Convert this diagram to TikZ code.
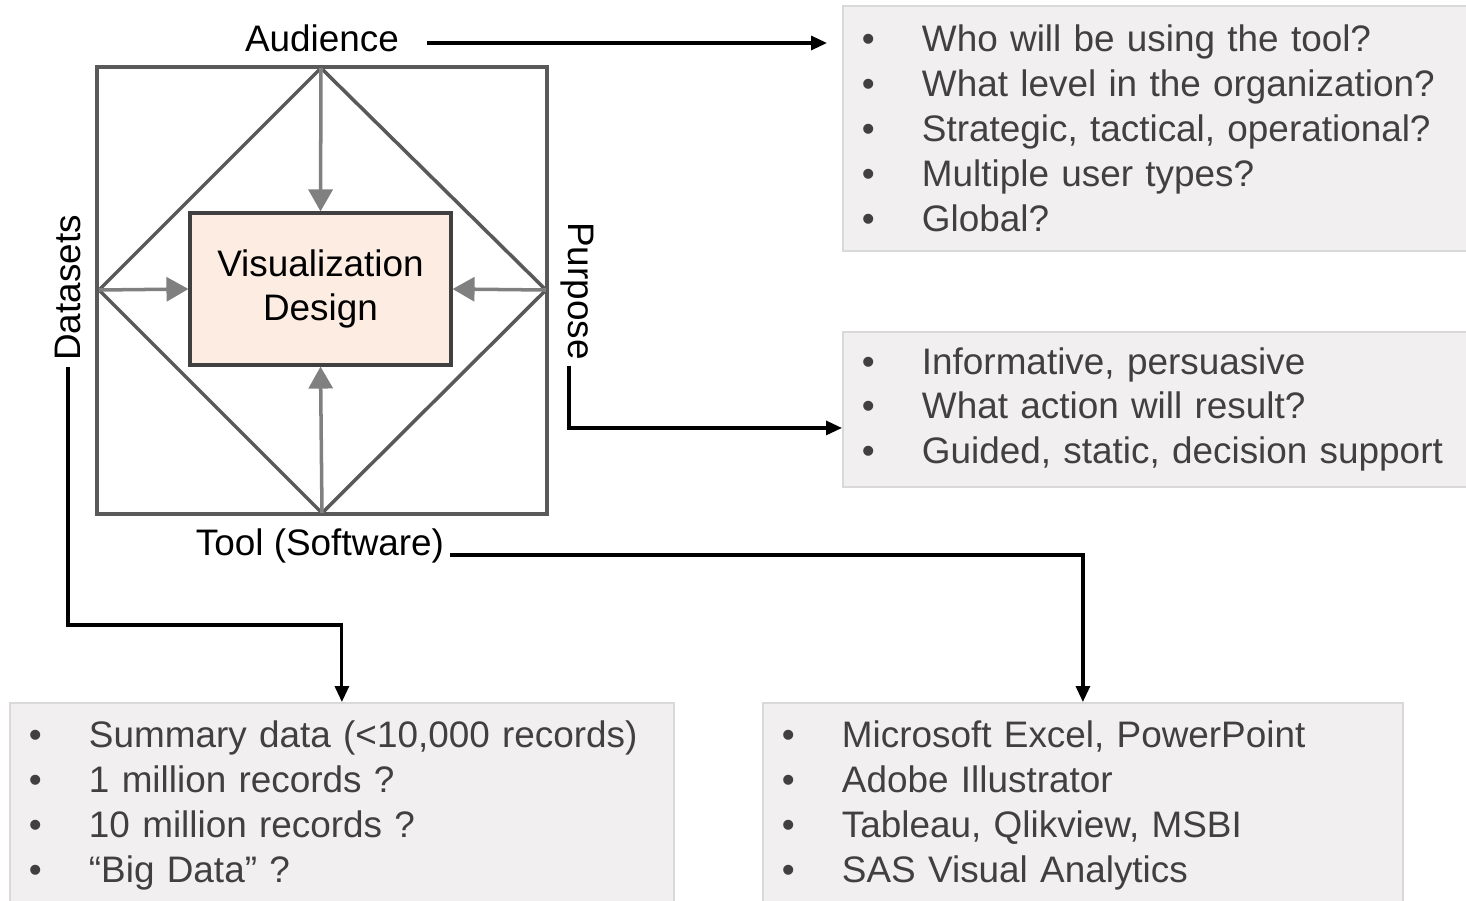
\documentclass[tikz,border=0pt]{standalone}
\usepackage{fontspec}
\setmainfont{Liberation Sans}
\usetikzlibrary{calc, positioning, arrows.meta}
\definecolor{boxgray}{HTML}{F2EFF0}
\definecolor{boxline}{HTML}{D9D9D9}
\definecolor{peach}{HTML}{FDECE1}
\definecolor{framegray}{HTML}{595959}
\definecolor{feedgray}{HTML}{808080}
\definecolor{itemgray}{HTML}{404040}
\newcommand{\itm}[1]{\makebox[1.2cm][l]{\textbullet}#1}

\begin{document}
\begin{tikzpicture}[
    x=0.02cm, y=-0.02cm,
    lbl/.style={font=\fontsize{21}{25}\selectfont},
    design/.style={draw=black!75, line width=1.8pt, fill=peach,
      minimum width=5.22cm, minimum height=3.04cm, align=center,
      font=\fontsize{21}{25.5}\selectfont},
    infobox/.style={draw=boxline, line width=1.1pt, fill=boxgray,
      anchor=north west, text=itemgray, align=left, inner xsep=0.38cm,
      font=\fontsize{21}{25.6}\selectfont},
    feedarrow/.style={draw=feedgray, line width=2pt,
      -{Triangle[width=0.48cm, length=0.44cm]}},
    flow/.style={draw=black, line width=1.8pt,
      -{Triangle[width=0.28cm, length=0.32cm]}},
    frameline/.style={draw=framegray, line width=2pt},
  ]
    \useasboundingbox (0,0) rectangle (1466,900);

    % frame and diamond
    \coordinate (top) at (321,68);
    \coordinate (left) at (99,290);
    \coordinate (right) at (546,290);
    \coordinate (bottom) at (322,513);
    \draw[frameline] (97,67) rectangle (547,514);
    \draw[frameline] (top) -- (right) -- (bottom) -- (left) -- cycle;

    \node[design] (vis) at (320.5,289) {Visualization\\Design};
    \draw[feedarrow] (top) -- (vis.north);
    \draw[feedarrow] (left) -- (vis.west);
    \draw[feedarrow] (right) -- (vis.east);
    \draw[feedarrow] (bottom) -- (vis.south);

    % the four sides
    \node[lbl] (aud) at (322,38) {Audience};
    \node[lbl, rotate=90] (dat) at (68,288) {Datasets};
    \node[lbl, rotate=-90] (pur) at (577,291) {Purpose};
    \node[lbl] (tool) at (320,546) {Tool (Software)};

    % question boxes
    \node[infobox, text width=11.72cm, minimum height=4.9cm] (abox) at (842,5)
      {\itm{Who will be using the tool?}\\
       \itm{What level in the organization?}\\
       \itm{Strategic, tactical, operational?}\\
       \itm{Multiple user types?}\\
       \itm{Global?}};
    \node[infobox, text width=11.72cm, minimum height=3.1cm] (pbox) at (842,331)
      {\itm{Informative, persuasive}\\
       \itm{What action will result?}\\
       \itm{Guided, static, decision support}};
    \node[infobox, text width=12.52cm, minimum height=4.1cm] (dbox) at (9,702)
      {\itm{Summary data (<10,000 records)}\\
       \itm{1 million records ?}\\
       \itm{10 million records ?}\\
       \itm{“Big Data” ?}};
    \node[infobox, text width=12.04cm, minimum height=4.1cm] (tbox) at (762,702)
      {\itm{Microsoft Excel, PowerPoint}\\
       \itm{Adobe Illustrator}\\
       \itm{Tableau, Qlikview, MSBI}\\
       \itm{SAS Visual Analytics}};

    % connectors
    \draw[flow, shorten >=0.3cm] ([xshift=0.44cm, yshift=-0.1cm]aud.east)
      -- ($(aud.east -| abox.west)+(0,-0.1cm)$);
    \draw[flow] ([xshift=-0.16cm]pur.east) |- ([yshift=-0.37cm]pbox.west);
    \draw[flow] ([yshift=-0.18cm]tool.east) -| (tbox.north);
    \draw[flow] (dat.west) |- ($(dbox.north)+(0,1.54cm)$) -- (dbox.north);
  \end{tikzpicture}
\end{document}
